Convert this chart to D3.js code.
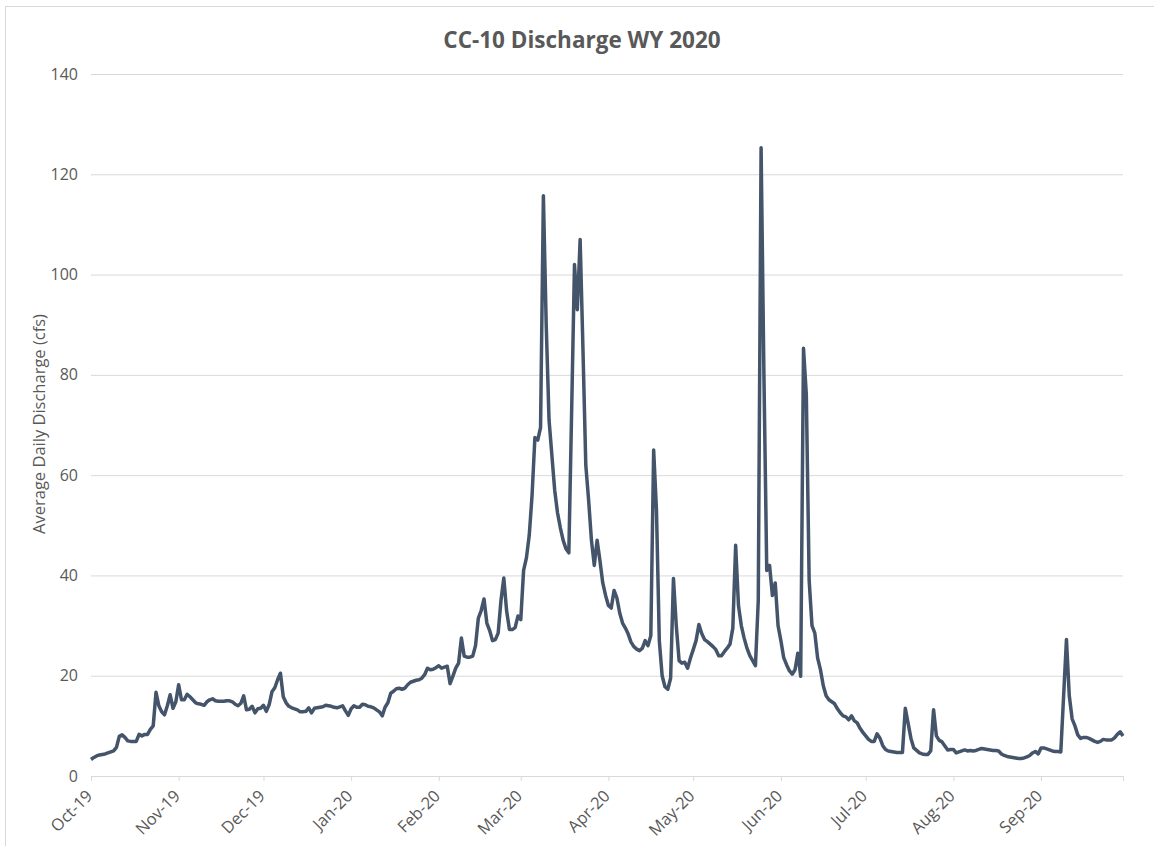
<!DOCTYPE html>
<html lang="en">
<head>
    <meta charset="UTF-8">
    <title>CC-10 Discharge WY 2020</title>
    <script src="https://cdnjs.cloudflare.com/ajax/libs/d3/7.8.5/d3.min.js"></script>
    <style>
        body { margin: 0; background: #fff; }
        #chart-container { width: 1154px; height: 846px; }
        text { font-family: "Open Sans", "Noto Sans", sans-serif; fill: #595959; }
    </style>
</head>
<body>
    <div id="chart-container"></div>

    <script>
        // Average daily discharge (cfs), one array per month of water year 2020
        const oct19 = [3.3, 3.7, 4.0, 4.2, 4.3, 4.4, 4.6, 4.8, 5.0, 5.7, 7.9, 8.2, 7.7, 7.0, 6.9, 6.9, 6.9, 8.3, 8.0, 8.3,
                       8.3, 9.3, 10.0, 16.7, 14.0, 12.8, 12.2, 14.0, 16.2, 13.5, 14.8];
        const nov19 = [18.2, 15.2, 15.2, 16.3, 15.8, 15.2, 14.6, 14.4, 14.3, 14.1, 14.8, 15.2, 15.4, 15.0, 14.9, 14.9, 14.9, 15.0, 15.0, 14.8,
                       14.3, 14.0, 14.5, 16.0, 13.2, 13.3, 13.9, 12.6, 13.4, 13.5];
        const dec19 = [14.1, 12.9, 14.2, 16.8, 17.6, 19.2, 20.5, 15.8, 14.6, 13.9, 13.6, 13.4, 13.2, 12.8, 12.8, 12.9, 13.6, 12.6, 13.5, 13.6,
                       13.7, 13.8, 14.1, 14.0, 13.9, 13.7, 13.6, 13.8, 14.0, 13.0, 12.1];
        const jan20 = [13.4, 14.0, 13.7, 13.7, 14.3, 14.2, 13.9, 13.8, 13.6, 13.2, 12.8, 12.0, 13.7, 14.6, 16.5, 16.9, 17.4, 17.5, 17.3, 17.5,
                       18.2, 18.7, 18.9, 19.1, 19.2, 19.5, 20.2, 21.5, 21.2, 21.3, 21.6];
        const feb20 = [22.0, 21.5, 21.7, 21.9, 18.4, 19.9, 21.5, 22.5, 27.5, 23.9, 23.7, 23.7, 23.9, 26.0, 31.5, 33.0, 35.3, 30.5, 29.0, 27.0,
                       27.2, 28.5, 35.0, 39.5, 32.9, 29.2, 29.2, 29.6, 31.9];
        const mar20 = [31.2, 41.0, 43.5, 48.0, 56.0, 67.5, 67.0, 69.5, 115.7, 90.0, 71.0, 64.0, 57.0, 52.5, 49.5, 47.0, 45.3, 44.5, 73.0, 102.0,
                       93.0, 107.0, 85.0, 62.0, 55.0, 47.0, 42.0, 47.0, 43.0, 38.5, 36.0];
        const apr20 = [34.0, 33.5, 37.0, 35.5, 32.5, 30.5, 29.5, 28.3, 26.7, 25.8, 25.3, 25.0, 25.5, 27.0, 26.0, 28.0, 65.0, 53.0, 27.0, 20.0,
                       17.8, 17.3, 19.5, 39.4, 30.0, 23.0, 22.5, 22.7, 21.5, 23.5];
        const may20 = [25.2, 27.0, 30.2, 28.4, 27.2, 26.8, 26.3, 25.8, 25.2, 24.0, 24.0, 24.8, 25.5, 26.3, 29.5, 46.0, 34.0, 30.0, 27.5, 25.5,
                       24.0, 23.0, 22.0, 35.0, 125.3, 80.0, 41.0, 42.0, 36.0, 38.5, 30.0];
        const jun20 = [27.0, 23.6, 22.2, 21.0, 20.3, 21.2, 24.5, 19.9, 85.3, 76.0, 39.0, 30.0, 28.5, 23.5, 21.2, 18.0, 16.0, 15.2, 14.8, 14.4,
                       13.4, 12.6, 12.0, 11.8, 11.2, 12.0, 11.0, 10.6, 9.5, 8.7];
        const jul20 = [8.0, 7.3, 6.9, 6.9, 8.4, 7.6, 6.1, 5.3, 5.0, 4.9, 4.8, 4.7, 4.7, 4.7, 13.5, 10.5, 7.5, 5.6, 5.1, 4.6,
                       4.4, 4.3, 4.3, 5.0, 13.2, 8.0, 7.1, 6.8, 6.0, 5.2, 5.3];
        const aug20 = [5.3, 4.6, 4.8, 5.0, 5.2, 5.0, 5.1, 5.0, 5.1, 5.3, 5.5, 5.4, 5.3, 5.2, 5.1, 5.1, 5.0, 4.4, 4.1, 3.9,
                       3.8, 3.7, 3.6, 3.5, 3.5, 3.6, 3.8, 4.1, 4.6, 4.9, 4.4];
        const sep20 = [5.6, 5.6, 5.4, 5.2, 5.0, 4.9, 4.9, 4.8, 16.0, 27.2, 16.0, 11.4, 10.0, 8.2, 7.5, 7.7, 7.7, 7.5, 7.2, 6.9,
                       6.7, 6.9, 7.3, 7.2, 7.2, 7.2, 7.6, 8.3, 8.8, 8.0];

        const monthlyValues = [oct19, nov19, dec19, jan20, feb20, mar20, apr20, may20, jun20, jul20, aug20, sep20];
        const yTicks = [0, 20, 40, 60, 80, 100, 120, 140];
        const startDate = new Date(Date.UTC(2019, 9, 1));
        const endDate = new Date(Date.UTC(2020, 8, 30));

        // one record per day
        const data = monthlyValues.flat().map((v, i) => ({ date: d3.utcDay.offset(startDate, i), value: v }));

        const width = 1154, height = 846;
        const margin = { top: 74, right: 31, bottom: 70, left: 91 };

        const svg = d3.select("#chart-container")
            .append("svg")
            .attr("width", width)
            .attr("height", height);

        // chart area border
        svg.append("rect")
            .attr("x", 5.5).attr("y", 6.5)
            .attr("width", width + 20).attr("height", height + 20)
            .attr("fill", "#fff")
            .attr("stroke", "#d9d9d9");

        const xScale = d3.scaleUtc()
            .domain([startDate, endDate])
            .range([margin.left, width - margin.right]);

        const yScale = d3.scaleLinear()
            .domain([0, 140])
            .range([height - margin.bottom, margin.top]);

        // horizontal gridlines + y labels
        const yAxis = svg.append("g")
            .attr("transform", `translate(${margin.left},0)`)
            .call(d3.axisLeft(yScale)
                .tickValues(yTicks)
                .tickSize(-(width - margin.left - margin.right))
                .tickPadding(13));
        yAxis.select(".domain").remove();
        yAxis.selectAll(".tick line").attr("stroke", "#d9d9d9");
        yAxis.selectAll(".tick text")
            .style("font-size", "16px")
            .attr("fill", "#595959");

        // x axis with month ticks and an end tick
        const monthTicks = d3.utcMonth.range(startDate, endDate).concat([endDate]);
        const fmt = d3.utcFormat("%b-%y");
        const xAxis = svg.append("g")
            .attr("transform", `translate(0,${height - margin.bottom})`)
            .call(d3.axisBottom(xScale)
                .tickValues(monthTicks)
                .tickFormat(d => +d === +endDate ? "" : fmt(d))
                .tickSizeOuter(0)
                .tickSize(5));
        xAxis.select(".domain").attr("stroke", "#d9d9d9");
        xAxis.selectAll(".tick line").attr("stroke", "#d9d9d9");
        xAxis.selectAll(".tick text")
            .style("font-size", "16.5px")
            .attr("fill", "#595959")
            .attr("text-anchor", "end")
            .attr("dy", null)
            .attr("y", null)
            .attr("transform", "translate(2,21) rotate(-45)");

        // discharge line
        const line = d3.line()
            .x(d => xScale(d.date))
            .y(d => yScale(d.value));

        svg.append("path")
            .datum(data)
            .attr("fill", "none")
            .attr("stroke", "#44546a")
            .attr("stroke-width", 3.5)
            .attr("stroke-linejoin", "round")
            .attr("d", line);

        // title
        svg.append("text")
            .attr("x", 582)
            .attr("y", 48)
            .attr("text-anchor", "middle")
            .style("font-size", "22.5px")
            .style("font-weight", "bold")
            .text("CC-10 Discharge WY 2020");

        // y axis title
        svg.append("text")
            .attr("transform", "translate(45,424) rotate(-90)")
            .attr("text-anchor", "middle")
            .style("font-size", "16.5px")
            .text("Average Daily Discharge (cfs)");
    </script>
</body>
</html>
